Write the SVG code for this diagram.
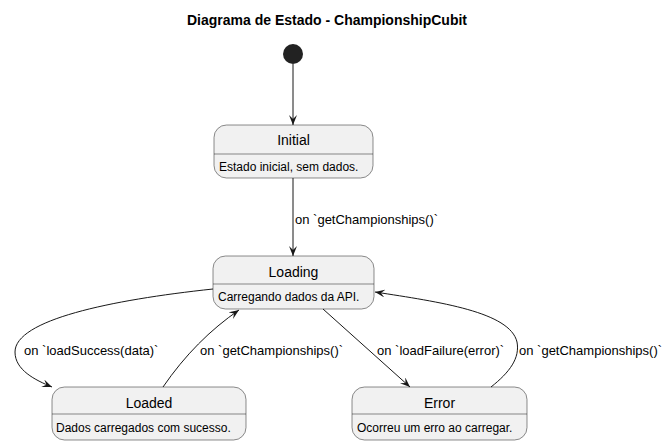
<svg xmlns="http://www.w3.org/2000/svg" width="667" height="445" viewBox="0 0 667 445">
<style>
.box{fill:#F1F1F1;stroke:#181818;stroke-width:0.5}
.div{stroke:#181818;stroke-width:0.5}
.name{font-family:"Liberation Sans",Arial,sans-serif;font-size:14px;fill:#000;text-anchor:middle}
.desc{font-family:"Liberation Sans",Arial,sans-serif;font-size:12px;fill:#000}
.lbl{font-family:"Liberation Sans",Arial,sans-serif;font-size:13px;fill:#000}
.edge{fill:none;stroke:#181818;stroke-width:1;marker-end:url(#arr)}
.title{font-family:"Liberation Sans",Arial,sans-serif;font-size:14px;font-weight:bold;text-anchor:middle}
</style>
<defs>
<marker id="arr" viewBox="0 0 10 8" refX="10" refY="4" markerWidth="10" markerHeight="8" markerUnits="userSpaceOnUse" orient="auto">
<path d="M0,0 L10,4 L0,8 L4,4 z" fill="#181818"/>
</marker>
</defs>
<text class="title" x="327" y="25">Diagrama de Estado - ChampionshipCubit</text>
<g id="start"><circle cx="293" cy="54" r="10" fill="#222222"/></g>
<g id="Initial">
<rect class="box" x="214" y="125" width="159" height="53" rx="12.5"/>
<line class="div" x1="214" y1="154" x2="373" y2="154"/>
<text class="name" x="293.5" y="145">Initial</text>
<text class="desc" x="219" y="171">Estado inicial, sem dados.</text>
</g>
<g id="Loading">
<rect class="box" x="213" y="256" width="161" height="53" rx="12.5"/>
<line class="div" x1="213" y1="284" x2="374" y2="284"/>
<text class="name" x="293.5" y="277">Loading</text>
<text class="desc" x="218" y="301">Carregando dados da API.</text>
</g>
<g id="Loaded">
<rect class="box" x="52" y="387" width="194" height="53" rx="12.5"/>
<line class="div" x1="52" y1="414" x2="246" y2="414"/>
<text class="name" x="149" y="408">Loaded</text>
<text class="desc" x="56" y="432">Dados carregados com sucesso.</text>
</g>
<g id="Error">
<rect class="box" x="352" y="387" width="175" height="53" rx="12.5"/>
<line class="div" x1="352" y1="414" x2="527" y2="414"/>
<text class="name" x="439.5" y="408">Error</text>
<text class="desc" x="357" y="432">Ocorreu um erro ao carregar.</text>
</g>
<g id="connectors">
<path class="edge" d="M293,64 L293,125"/>
<path class="edge" d="M293,178 L293,256"/>
<text class="lbl" x="295" y="224">on `getChampionships()`</text>
<path class="edge" d="M213,289 C110,300 15,320 15,352 C15,370 35,380 52,387"/>
<text class="lbl" x="24" y="355">on `loadSuccess(data)`</text>
<path class="edge" d="M163,387 C185,355 210,330 239,310"/>
<text class="lbl" x="200" y="355">on `getChampionships()`</text>
<path class="edge" d="M323,309 L410,387"/>
<text class="lbl" x="377" y="355">on `loadFailure(error)`</text>
<path class="edge" d="M491,387 C510,372 520,358 517,342 C510,312 440,302 375,292"/>
<text class="lbl" x="519" y="355">on `getChampionships()`</text>
</g>
</svg>
